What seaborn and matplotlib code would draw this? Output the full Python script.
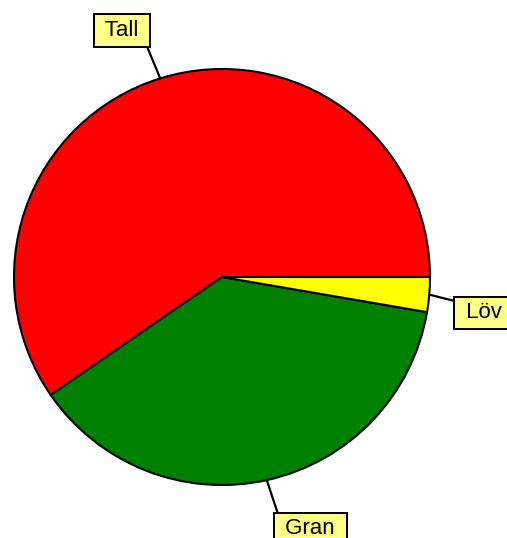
import numpy as np
import matplotlib
matplotlib.use("Agg")
import matplotlib.pyplot as plt
import seaborn as sns

# Slice data (shares in percent)
labels = ["Tall", "Gran", "Löv"]
shares = [59.6, 37.7, 2.7]
colors = ["#ff0000", "#008000", "#ffff00"]

# how far out each label box sits (in pie radii)
label_dist = [1.16, 1.16, 1.12]

sns.set_style("white")
plt.rcParams["font.family"] = ["Liberation Sans", "DejaVu Sans"]

fig = plt.figure(figsize=(5.07, 5.38), dpi=100)
ax = fig.add_axes([0, 0, 1, 1])

wedges, _ = ax.pie(shares, colors=colors, startangle=0, counterclock=True,
                   wedgeprops=dict(edgecolor="black", linewidth=1.5))

# pie radius ~208 px, centre at (222, 277) px from top-left
ax.set_xlim(-222 / 208, 285 / 208)
ax.set_ylim(-261 / 208, 277 / 208)
ax.set_aspect("auto")
ax.axis("off")

fs = 16
pad = 0.25
pad_data = pad * fs / 72 * 100 / 208

for w, lab, d in zip(wedges, labels, label_dist):
    ang = np.deg2rad((w.theta1 + w.theta2) / 2)
    x, y = np.cos(ang), np.sin(ang)
    sx, sy = np.sign(x), np.sign(y)
    tx = d * x + sx * pad_data
    ty = d * y + sy * pad_data
    ax.annotate(" " + lab + " ", xy=(x, y), xytext=(tx, ty),
                ha="left" if sx > 0 else "right",
                va="bottom" if sy > 0 else "top",
                fontsize=fs, color="black",
                bbox=dict(boxstyle=f"square,pad={pad}", fc="#ffff88",
                          ec="black", lw=1.4),
                arrowprops=dict(arrowstyle="-", color="black", lw=1.6,
                                shrinkA=0, shrinkB=0,
                                relpos=((1 - sx) / 2, (1 - sy) / 2)),
                annotation_clip=False)

fig.savefig("out.png", dpi=100)
